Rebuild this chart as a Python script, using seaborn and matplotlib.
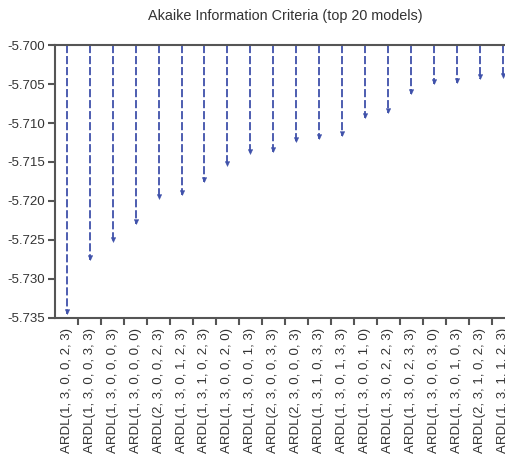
import numpy as np
import pandas as pd
import matplotlib
matplotlib.use("Agg")
import matplotlib.pyplot as plt
from matplotlib.path import Path
import seaborn as sns

# Top 20 ARDL models ranked by Akaike information criterion
models = [
    "ARDL(1, 3, 0, 0, 2, 3)", "ARDL(1, 3, 0, 0, 3, 3)", "ARDL(1, 3, 0, 0, 0, 3)",
    "ARDL(1, 3, 0, 0, 0, 0)", "ARDL(2, 3, 0, 0, 2, 3)", "ARDL(1, 3, 0, 1, 2, 3)",
    "ARDL(1, 3, 1, 0, 2, 3)", "ARDL(1, 3, 0, 0, 2, 0)", "ARDL(1, 3, 0, 0, 1, 3)",
    "ARDL(2, 3, 0, 0, 3, 3)", "ARDL(2, 3, 0, 0, 0, 3)", "ARDL(1, 3, 1, 0, 3, 3)",
    "ARDL(1, 3, 0, 1, 3, 3)", "ARDL(1, 3, 0, 0, 1, 0)", "ARDL(1, 3, 0, 2, 2, 3)",
    "ARDL(1, 3, 0, 2, 3, 3)", "ARDL(1, 3, 0, 0, 3, 0)", "ARDL(1, 3, 0, 1, 0, 3)",
    "ARDL(2, 3, 1, 0, 2, 3)", "ARDL(1, 3, 1, 1, 2, 3)",
]
aic = [
    -5.7345, -5.7276, -5.7253, -5.7230, -5.7198, -5.7192, -5.7176, -5.7155,
    -5.7140, -5.7137, -5.7124, -5.7120, -5.7117, -5.7093, -5.7087, -5.7063,
    -5.7050, -5.7049, -5.7044, -5.7042,
]
baseline = -5.700
y_ticks = [-5.700, -5.705, -5.710, -5.715, -5.720, -5.725, -5.730, -5.735]

df = pd.DataFrame({"model": models, "aic": aic})
df["pos"] = np.arange(len(df))

sns.set_style("ticks")
plt.rcParams["font.family"] = ["Liberation Sans", "DejaVu Sans"]
plt.rcParams["text.color"] = "#333333"
plt.rcParams["xtick.color"] = "#555555"
plt.rcParams["ytick.color"] = "#555555"
plt.rcParams["xtick.labelcolor"] = "#333333"
plt.rcParams["ytick.labelcolor"] = "#333333"

arrow_color = "#3f51aa"
spine_color = "#555555"

fig = plt.figure(figsize=(5.06, 4.57), dpi=100)
ax = fig.add_axes([0.1091, 0.3042, 0.9077, 0.5973])

# dashed stems from the baseline down to each AIC value
ax.vlines(df["pos"], baseline, df["aic"], colors=arrow_color,
          linestyles=(0, (4.5, 1.6)), linewidth=1.3)

# arrow head: triangle with its tip at the data point
head = Path([(-0.6, 1.3), (0.6, 1.3), (0, 0), (-0.6, 1.3)],
            [Path.MOVETO, Path.LINETO, Path.LINETO, Path.CLOSEPOLY])
sns.scatterplot(data=df, x="pos", y="aic", marker=head, s=50,
                color=arrow_color, edgecolor=arrow_color, linewidth=0.3,
                ax=ax, legend=False, zorder=3)

ax.set_xlim(-0.5, len(df) - 0.5)
ax.set_ylim(-5.735, -5.700)
ax.set_yticks(y_ticks)
ax.set_yticklabels([f"{v:.3f}" for v in y_ticks])
ax.set_xticks(df["pos"])
ax.set_xticklabels(df["model"], rotation=90)
ax.set_xticks(df["pos"][:-1] + 0.5, minor=True)
ax.tick_params(axis="x", which="major", length=0, pad=7, labelsize=9.5)
ax.tick_params(axis="x", which="minor", length=5, width=1.5, color=spine_color,
               direction="out")
ax.tick_params(axis="y", length=5, width=1.5, color=spine_color, pad=2,
               labelsize=9.5)
ax.set_xlabel("")
ax.set_ylabel("")

for side in ["left", "bottom", "top", "right"]:
    ax.spines[side].set_color(spine_color)
    ax.spines[side].set_linewidth(1.5)

ax.set_title("Akaike Information Criteria (top 20 models)", fontsize=10.4,
             pad=18, color="#333333")

fig.savefig("out.png", dpi=100)
